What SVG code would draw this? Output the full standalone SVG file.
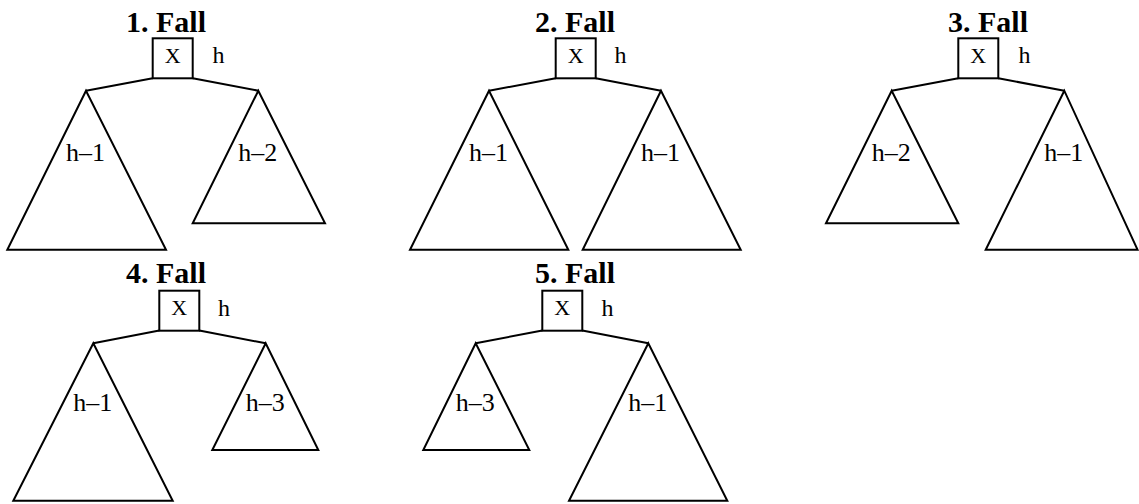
<svg xmlns="http://www.w3.org/2000/svg" width="1139" height="504" viewBox="0 0 1139 504">
<style>
.t{font-family:"Liberation Serif","Times New Roman",serif;font-weight:bold;font-size:30px;text-anchor:middle;fill:#000}
.n{font-family:"Liberation Serif","Times New Roman",serif;font-size:22px;text-anchor:middle;fill:#000}
.h{font-family:"Liberation Serif","Times New Roman",serif;font-size:24px;fill:#000}
.l{font-family:"Liberation Serif","Times New Roman",serif;font-size:26px;text-anchor:middle;fill:#000}
.s{fill:#fff;stroke:#000;stroke-width:2;stroke-linejoin:miter}
.e{fill:none;stroke:#000;stroke-width:2}
</style>
<rect width="1139" height="504" fill="#fff"/>
<g id="titles">
<text class="t" x="166" y="31.5">1. Fall</text>
<text class="t" x="575" y="31.5">2. Fall</text>
<text class="t" x="988" y="31.5">3. Fall</text>
<text class="t" x="166" y="282.5">4. Fall</text>
<text class="t" x="575" y="282.5">5. Fall</text>
</g>
<g id="connectors">
<path class="e" d="M152.7,78.3 L86,90.7 M192.7,78.3 L258.3,90.7"/>
<path class="e" d="M555.7,78.3 L489,90.7 M595.7,78.3 L661,90.7"/>
<path class="e" d="M958.3,78.3 L891.7,90.7 M998.3,78.3 L1064.3,90.7"/>
<path class="e" d="M159.3,330.5 L93.3,343.3 M199.3,330.5 L265.7,343.3"/>
<path class="e" d="M542.3,330.5 L475.7,343.3 M582.3,330.5 L648.3,343.3"/>
</g>
<g id="c1-root"><rect class="s" x="152.7" y="38.3" width="40" height="40"/><text class="n" x="172.7" y="63.3">X</text><text class="h" x="212.5" y="63.3">h</text></g>
<g id="c1-left"><polygon class="s" points="86,90.7 7.3,249.7 166,249.7"/><text class="l" x="85.5" y="160.5">h–1</text></g>
<g id="c1-right"><polygon class="s" points="258.3,90.7 192.7,223.3 325,223.3"/><text class="l" x="257.8" y="160.5">h–2</text></g>

<g id="c2-root"><rect class="s" x="555.7" y="38.3" width="40" height="40"/><text class="n" x="575.7" y="63.3">X</text><text class="h" x="614.5" y="63.3">h</text></g>
<g id="c2-left"><polygon class="s" points="489,90.7 410,249.7 568.3,249.7"/><text class="l" x="488.5" y="160.5">h–1</text></g>
<g id="c2-right"><polygon class="s" points="661,90.7 582.7,249.7 740.7,249.7"/><text class="l" x="660.5" y="160.5">h–1</text></g>

<g id="c3-root"><rect class="s" x="958.3" y="38.3" width="40" height="40"/><text class="n" x="978.3" y="63.3">X</text><text class="h" x="1018.5" y="63.3">h</text></g>
<g id="c3-left"><polygon class="s" points="891.7,90.7 826,223.3 958.3,223.3"/><text class="l" x="891.2" y="160.5">h–2</text></g>
<g id="c3-right"><polygon class="s" points="1064.3,90.7 985.7,249.7 1137.5,249.7"/><text class="l" x="1063.8" y="160.5">h–1</text></g>

<g id="c4-root"><rect class="s" x="159.3" y="290.7" width="40" height="40"/><text class="n" x="179.3" y="315">X</text><text class="h" x="218" y="315.5">h</text></g>
<g id="c4-left"><polygon class="s" points="93.3,343.3 13.3,500.7 172.7,500.7"/><text class="l" x="92.8" y="410.5">h–1</text></g>
<g id="c4-right"><polygon class="s" points="265.7,343.3 212.3,450 318.3,450"/><text class="l" x="265.2" y="410.5">h–3</text></g>

<g id="c5-root"><rect class="s" x="542.3" y="290.7" width="40" height="40"/><text class="n" x="562.3" y="315">X</text><text class="h" x="601.5" y="315.5">h</text></g>
<g id="c5-left"><polygon class="s" points="475.7,343.3 423.3,450 529.3,450"/><text class="l" x="475.2" y="410.5">h–3</text></g>
<g id="c5-right"><polygon class="s" points="648.3,343.3 569,500.7 727.3,500.7"/><text class="l" x="647.8" y="410.5">h–1</text></g>
</svg>
